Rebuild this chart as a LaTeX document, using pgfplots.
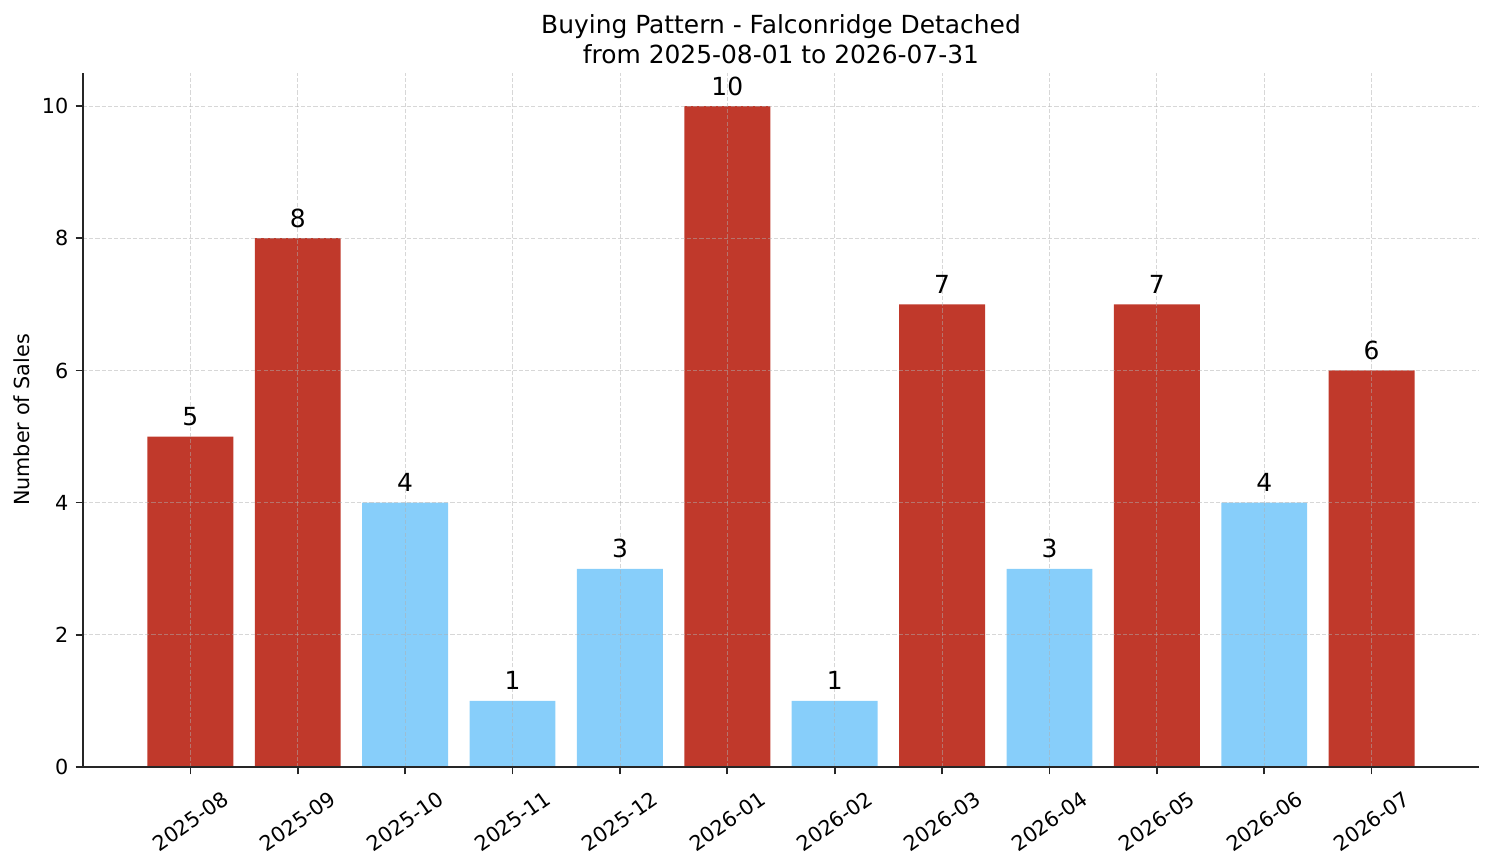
\documentclass[border=0pt]{standalone}
\usepackage{pgfplots}
\pgfplotsset{compat=1.18}
\usepackage{fontspec}
\setmainfont{DejaVu Sans}
\definecolor{barred}{HTML}{C0392B}
\definecolor{barblue}{HTML}{87CEFA}
\definecolor{gridgray}{HTML}{B0B0B0}
\def\px{0.4818pt}
\begin{document}
\begin{tikzpicture}
\begin{axis}[
  scale only axis, width=672.6pt, height=334.4pt,
  ybar, bar width=0.8, bar shift=0pt,
  xmin=-1, xmax=12, ymin=0, ymax=10.5,
  axis lines*=left, axis line style={line width=0.8pt, black!85},
  tick align=outside, major tick length=3.5pt,
  tick style={line width=0.8pt, black!85},
  xtick={0,...,11},
  xticklabels={2025-08,2025-09,2025-10,2025-11,2025-12,2026-01,2026-02,2026-03,2026-04,2026-05,2026-06,2026-07},
  ytick={0,2,4,6,8,10},
  /pgf/number format/assume math mode=true,
  ticklabel style={font=\fontsize{10}{12}\selectfont},
  xticklabel style={yshift=-22.6pt, rotate=35, anchor=center},
  grid=major, major grid style={gridgray, opacity=0.5, line width=0.4pt, dash pattern=on 2pt off 1pt},
  axis on top, clip=false,
  title={Buying Pattern - Falconridge Detached\\from 2025-08-01 to 2026-07-31},
  title style={font=\fontsize{12}{14.4}\selectfont, align=center, at={(0.5,1)}, anchor=south, inner sep=0pt, yshift=-1.9pt},
  ylabel={Number of Sales},
  ylabel style={font=\fontsize{10}{12}\selectfont, at={(rel axis cs:0,0.5)}, anchor=center, yshift=29.4pt},
  nodes near coords,
  every node near coord/.append style={anchor=base, inner sep=0pt, yshift=5.3pt, black, font=\fontsize{12}{14}\selectfont},
]
\addplot[fill=barred, draw=none] coordinates {(0,5) (1,8) (5,10) (7,7) (9,7) (11,6)};
\addplot[fill=barblue, draw=none] coordinates {(2,4) (3,1) (4,3) (6,1) (8,3) (10,4)};
\coordinate (bl) at (rel axis cs:0,0);
\coordinate (tr) at (rel axis cs:1,1);
\end{axis}
\pgfresetboundingbox
\path[use as bounding box] ([shift={(-83*\px,-96*\px)}]bl) rectangle ([shift={(15*\px,73*\px)}]tr);
\end{tikzpicture}
\end{document}
